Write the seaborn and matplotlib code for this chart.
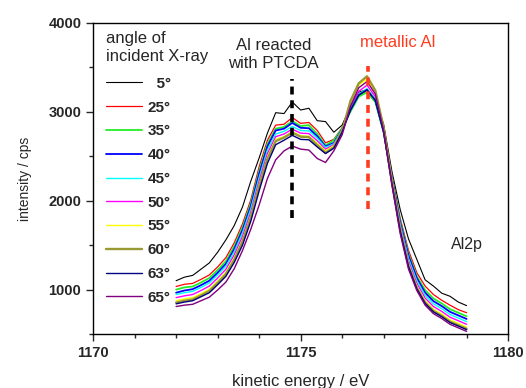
import numpy as np
import pandas as pd
import matplotlib
matplotlib.use("Agg")
import matplotlib.pyplot as plt
import seaborn as sns
from matplotlib.ticker import MultipleLocator
from matplotlib.lines import Line2D

energy = [1172.0, 1172.2, 1172.4, 1172.6, 1172.8, 1173.0, 1173.2, 1173.4, 1173.6, 1173.8,
          1174.0, 1174.2, 1174.4, 1174.6, 1174.8, 1175.0, 1175.2, 1175.4, 1175.6, 1175.8,
          1176.0, 1176.2, 1176.4, 1176.6, 1176.8, 1177.0, 1177.2, 1177.4, 1177.6, 1177.8,
          1178.0, 1178.2, 1178.4, 1178.6, 1178.8, 1179.0]

angles = ["5", "25", "35", "40", "45", "50", "55", "60", "63", "65"]

i_5 = [1100, 1140, 1160, 1230, 1300, 1420, 1560, 1720, 1930, 2220,
       2480, 2760, 2990, 2980, 3110, 3020, 3040, 2900, 2890, 2770,
       2850, 3060, 3220, 3250, 3140, 2860, 2330, 1900, 1570, 1340,
       1110, 1040, 960, 925, 860, 820]
i_25 = [1035, 1060, 1070, 1115, 1165, 1255, 1360, 1525, 1740, 2010,
        2380, 2680, 2850, 2860, 2935, 2870, 2880, 2790, 2650, 2690,
        2820, 3020, 3180, 3240, 3120, 2790, 2280, 1800, 1440, 1190,
        1040, 945, 880, 825, 775, 740]
i_35 = [1000, 1025, 1035, 1080, 1130, 1220, 1320, 1485, 1700, 1970,
        2330, 2640, 2810, 2830, 2895, 2840, 2850, 2750, 2620, 2680,
        2810, 3000, 3170, 3220, 3110, 2770, 2260, 1770, 1400, 1150,
        995, 900, 845, 780, 740, 700]
i_40 = [965, 990, 1005, 1050, 1100, 1190, 1290, 1455, 1670, 1940,
        2300, 2610, 2790, 2810, 2875, 2820, 2815, 2725, 2610, 2650,
        2800, 3020, 3190, 3250, 3130, 2780, 2250, 1750, 1380, 1130,
        965, 870, 815, 750, 710, 670]
i_45 = [945, 965, 980, 1025, 1075, 1165, 1265, 1425, 1640, 1910,
        2260, 2570, 2750, 2780, 2835, 2790, 2785, 2705, 2600, 2640,
        2800, 3030, 3200, 3260, 3140, 2780, 2240, 1730, 1350, 1100,
        935, 840, 785, 720, 680, 640]
i_50 = [910, 930, 945, 990, 1040, 1130, 1230, 1390, 1600, 1870,
        2220, 2530, 2720, 2750, 2805, 2760, 2755, 2675, 2580, 2630,
        2790, 3060, 3230, 3300, 3170, 2790, 2230, 1710, 1320, 1070,
        905, 810, 755, 690, 650, 610]
i_55 = [875, 895, 910, 955, 1005, 1095, 1195, 1355, 1560, 1830,
        2180, 2490, 2690, 2720, 2775, 2730, 2725, 2645, 2560, 2620,
        2790, 3100, 3300, 3370, 3220, 2810, 2220, 1690, 1290, 1040,
        875, 780, 725, 660, 620, 580]
i_60 = [855, 875, 890, 935, 985, 1075, 1175, 1335, 1540, 1810,
        2160, 2470, 2670, 2710, 2765, 2720, 2715, 2625, 2540, 2600,
        2780, 3120, 3320, 3400, 3240, 2820, 2210, 1670, 1270, 1020,
        855, 760, 705, 640, 600, 560]
i_63 = [840, 860, 875, 920, 965, 1055, 1150, 1305, 1500, 1770,
        2110, 2420, 2630, 2680, 2735, 2690, 2685, 2605, 2530, 2590,
        2770, 3020, 3190, 3250, 3130, 2770, 2190, 1660, 1260, 1010,
        845, 750, 695, 630, 590, 550]
i_65 = [810, 825, 835, 875, 915, 995, 1085, 1235, 1440, 1680,
        1950, 2250, 2460, 2560, 2615, 2580, 2570, 2475, 2430, 2560,
        2740, 3060, 3270, 3340, 3200, 2790, 2180, 1630, 1230, 990,
        825, 730, 675, 610, 570, 530]

series = [i_5, i_25, i_35, i_40, i_45, i_50, i_55, i_60, i_63, i_65]
colors = ["#000000", "#ff0000", "#22ee22", "#0000ff", "#00ffff", "#ff00ff",
          "#ffff00", "#999933", "#000080", "#800080"]
widths = [0.8, 0.9, 1.3, 1.3, 1.0, 1.0, 1.0, 1.7, 1.0, 1.0]

rows = []
for a, vals in zip(angles, series):
    for e, v in zip(energy, vals):
        rows.append({"energy": e, "intensity": v, "angle": a})
df = pd.DataFrame(rows)

sns.set_style("ticks")
plt.rcParams["font.family"] = ["Liberation Sans", "DejaVu Sans"]

fig = plt.figure(figsize=(5.26, 3.88), dpi=100)
ax = fig.add_axes([0.177, 0.139, 0.789, 0.802])

palette = dict(zip(angles, colors))
sns.lineplot(data=df, x="energy", y="intensity", hue="angle", hue_order=angles,
             palette=palette, ax=ax, legend=False, estimator=None, sort=False)
for line, lw in zip(ax.get_lines(), widths):
    line.set_linewidth(lw)

# reference markers
ax.plot([1174.8, 1174.8], [1810, 3370], color="black", lw=2.6, ls=(0, (2.2, 1.6)))
ax.plot([1176.63, 1176.63], [1910, 3520], color="#ff3b1f", lw=2.6, ls=(0, (2.2, 1.6)))

ax.text(1174.35, 3835, "Al reacted\nwith PTCDA", ha="center", va="top",
        fontsize=12, linespacing=1.3)
ax.text(1177.35, 3700, "metallic Al", ha="center", va="bottom", fontsize=12,
        color="#ff3b1f")
ax.text(1179.0, 1510, "Al2p", ha="center", va="center", fontsize=11.5)

# legend
handles = [Line2D([0], [0], color=c, lw=lw) for c, lw in zip(colors, widths)]
labels = ["  " + a + "\u00b0" if len(a) == 1 else a + "\u00b0" for a in angles]
leg = ax.legend(handles, labels, title="angle of\nincident X-ray", loc="upper left",
                frameon=False, prop={"size": 11, "weight": "bold"}, title_fontsize=12,
                handlelength=2.4, handletextpad=0.35, labelspacing=0.64,
                borderaxespad=0.0, borderpad=0.0,
                bbox_to_anchor=(0.03, 0.975))
leg._legend_box.align = "left"
leg._legend_box.sep = 9
leg.get_title().set_linespacing(1.3)

ax.set_xlim(1170, 1180)
ax.set_ylim(500, 4000)
ax.xaxis.set_major_locator(MultipleLocator(5))
ax.xaxis.set_minor_locator(MultipleLocator(1))
ax.yaxis.set_major_locator(MultipleLocator(1000))
ax.yaxis.set_minor_locator(MultipleLocator(500))
ax.set_yticks([1000, 2000, 3000, 4000])
ax.tick_params(which="major", direction="out", length=5, width=1, labelsize=10.5,
               top=False, right=False)
ax.tick_params(which="minor", direction="out", length=3, width=1, top=False, right=False)
for lab in ax.get_xticklabels() + ax.get_yticklabels():
    lab.set_fontweight("bold")
for s in ax.spines.values():
    s.set_linewidth(1.0)
    s.set_color("black")

ax.set_xlabel("kinetic energy / eV", fontsize=12, labelpad=10)
ax.set_ylabel("intensity / cps", fontsize=10, labelpad=12)

fig.savefig("out.png", dpi=100)
